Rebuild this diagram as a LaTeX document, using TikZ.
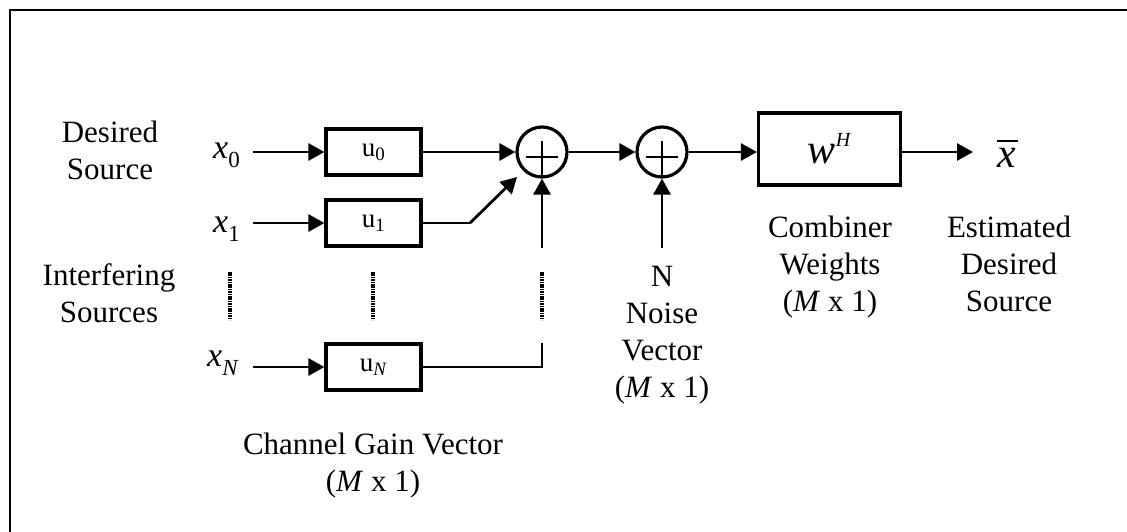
\documentclass[tikz,border=0pt]{standalone}
\usepackage{fontspec}
\setmainfont{Liberation Serif}
\usetikzlibrary{arrows.meta,calc}
% source symbol: italic x with a lowered index
\newcommand\srcsym[1]{{\fontsize{34}{34}\selectfont\textit{x}}\raisebox{-9pt}{\fontsize{23}{23}\selectfont #1}}
\begin{document}
\begin{tikzpicture}[x=1pt,y=-1pt,
  lbl/.style={font=\fontsize{31}{37}\selectfont, align=center, anchor=base, inner sep=0pt},
  gain/.style={draw, line width=3.2pt, minimum width=95pt, minimum height=46pt, inner sep=0pt,
               font=\fontsize{27}{27}\selectfont},
  sumnode/.style={draw, circle, line width=3.2pt, minimum size=50pt, inner sep=0pt},
  arr/.style={line width=2.8pt, -{Triangle[length=16pt,width=17pt]}},
  wire/.style={line width=2pt},
  dots/.style={line width=3.2pt, dash pattern=on 1.5pt off 0.9pt},
  sym/.style={anchor=base west, inner sep=0pt}]

\useasboundingbox (0,0) rectangle (1127,531);

% frame (top and left edges)
\draw[line width=2.8pt] (10,545) -- (10,10) -- (1140,10);

% source symbols
\node[sym] (x0) at (213,158) {\srcsym{0}};
\node[sym] (x1) at (213,232) {\srcsym{1}};
\node[sym] (xN) at (207,366) {\srcsym{\textit{N}}};

% channel gain blocks
\node[gain] (u0) at (373.5,152) {u\textsubscript{0}};
\node[gain] (u1) at (373.5,223) {u\textsubscript{1}};
\node[gain] (uN) at (373.5,367) {u\textsubscript{\textit{N}}};

% summing junctions
\node[sumnode] (s1) at (542,152) {};
\node[sumnode] (s2) at (662,152) {};
\foreach \s in {s1,s2}{
  \draw[line width=2.8pt] ($(\s)+(-16,5)$) -- ($(\s)+(16,5)$);
  \draw[line width=2.8pt] ($(\s)+(0,-11)$) -- ($(\s)+(0,24)$);
}

% combiner
\node[draw, line width=3.2pt, minimum width=142pt, minimum height=72pt, inner sep=0pt] (wH) at (829.5,149)
  {{\fontsize{42}{42}\selectfont\textit{w}}\raisebox{17pt}{\fontsize{20}{20}\selectfont\textit{H}}};

% output symbol
\node[sym, font=\fontsize{42}{42}\selectfont] (xbar) at (997,167) {\textit{x}};
\draw[line width=2.2pt] ($(xbar.base west)+(0,-26)$) -- ($(xbar.base west)+(21,-26)$);

% free ends of connectors
\coordinate (x0s) at (253,152);
\coordinate (x1s) at (253,223);
\coordinate (xNs) at (253,367);
\coordinate (bend1) at (470,223);
\coordinate (tip1) at ($(s1)+(-25,25)$);
\coordinate (n1s) at (542,248);
\coordinate (n2s) at (662,248);
\coordinate (cornerN) at (542,367);
\coordinate (topN) at (542,343);
\coordinate (xo) at (973,152);

% connectors
\draw[arr] (x0s) -- (u0.west);
\draw[arr] (x1s) -- (u1.west);
\draw[arr] (xNs) -- (uN.west);
\draw[arr] (u0.east) -- (s1.west);
\draw[wire] (u1.east) -- (bend1);
\draw[arr] (bend1) -- (tip1);
\draw[arr] (n1s) -- (s1.south);
\draw[wire] (uN.east) -- (cornerN) -- (topN);
\draw[arr] (s1.east) -- (s2.west);
\draw[arr] (n2s) -- (s2.south);
\draw[arr] (s2.east) -- (s2.east -| wH.west);
\draw[arr] (wH.east |- s2.east) -- (xo);

% ellipsis columns
\draw[dots] (230,272) -- (230,320);
\draw[dots] (373,272) -- (373,320);
\draw[dots] (542,272) -- (542,320);

% labels (anchored at the baseline of their last line)
\node[lbl] (desired) at (110,179) {Desired\\Source};
\node[lbl] (interf) at (109,322) {Interfering\\Sources};
\node[lbl] (chan) at (373,491) {Channel Gain Vector\\(\textit{M} x 1)};
\node[lbl] (noise) at (662,397) {N\\Noise\\Vector\\(\textit{M} x 1)};
\node[lbl] (comb) at (830,311) {Combiner\\Weights\\(\textit{M} x 1)};
\node[lbl] (est) at (1009,311) {Estimated\\Desired\\Source};
\end{tikzpicture}
\end{document}
